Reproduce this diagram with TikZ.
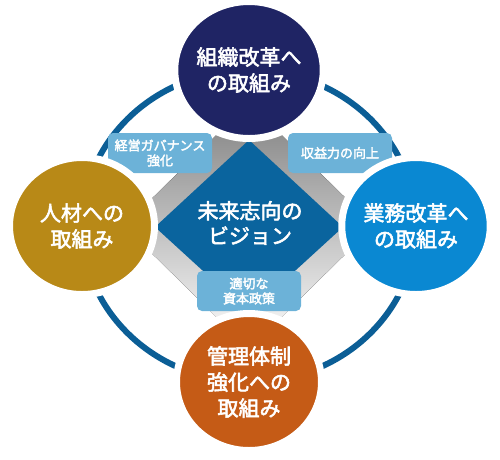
\documentclass[tikz,border=0pt]{standalone}
\usepackage{fontspec}
\setmainfont{Noto Sans CJK JP}[FakeBold=2.5]
\usetikzlibrary{math,shapes.geometric}

\definecolor{navy}{HTML}{1F2464}
\definecolor{gold}{HTML}{B88917}
\definecolor{sky}{HTML}{0A88D2}
\definecolor{rust}{HTML}{C55B16}
\definecolor{core}{HTML}{0A649E}
\definecolor{ringblue}{HTML}{0B5E96}
\definecolor{tagblue}{HTML}{6CB2D8}
\definecolor{shade}{HTML}{DADBDB}

\begin{document}
\begin{tikzpicture}[x=1pt,y=-1pt,
  goal/.style={ellipse, fill=#1, draw=white, line width=7pt, minimum width=145pt,
    minimum height=137pt, inner sep=0pt, text=white, align=center,
    font=\fontsize{21}{26}\selectfont},
  tag/.style={fill=tagblue, rounded corners=5pt, minimum width=104pt, minimum height=40pt,
    inner sep=0pt, text=white, align=center, font=\fontsize{13}{15}\selectfont}]
  \tikzmath{%
    \cx = 249; \cy = 226; \rx = 167; \ry = 156;
  }
  \useasboundingbox (0,0) rectangle (500,459);

  \begin{scope}
    \clip (152,134) rectangle (346,318);
    \fill[shade] (\cx,\cy-123)--(\cx-125,\cy)--(\cx,\cy+123)--(\cx+125,\cy)--cycle;
  \end{scope}
  \fill[core] (\cx,140)--(155,227)--(\cx,313)--(343,227)--cycle;
  \node[text=white, align=center, font=\fontsize{21}{25}\selectfont] (vision) at (250,223) {未来志向の\\ビジョン};

  \draw[ringblue, line width=6pt] (\cx,\cy) ellipse [x radius=\rx, y radius=\ry];

  \node[tag] (gov) at (160,153) {経営ガバナンス\\強化};
  \node[tag] (profit) at (340,153) {収益力の向上};
  \node[tag] (capital) at (249,291) {適切な\\資本政策};

  \node[goal=navy] (org) at (\cx,70) {組織改革へ\\の取組み};
  \node[goal=gold] (people) at (82,\cy) {人材への\\取組み};
  \node[goal=sky] (work) at (416,\cy) {業務改革へ\\の取組み};
  \node[goal=rust] (control) at (\cx,382) {管理体制\\強化への\\取組み};
\end{tikzpicture}
\end{document}
